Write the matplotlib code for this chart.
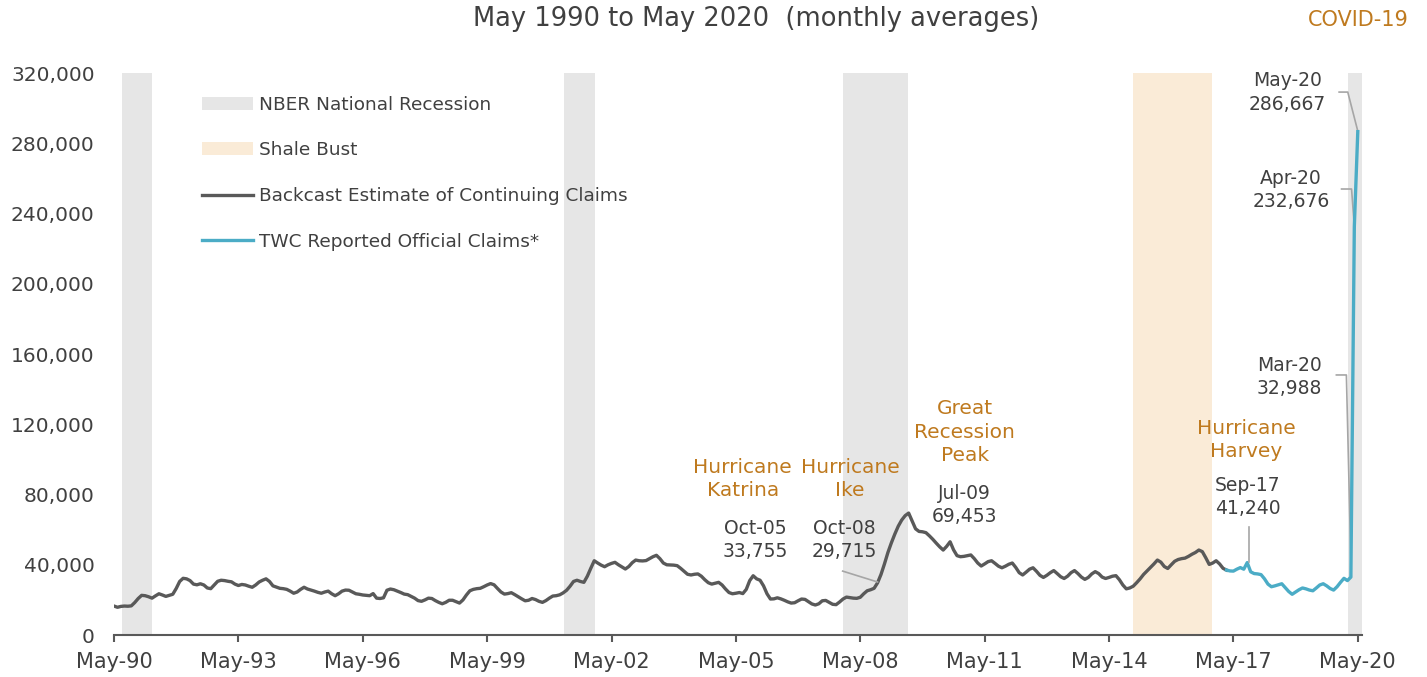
import numpy as np
import matplotlib
matplotlib.use("Agg")
import matplotlib.pyplot as plt
from matplotlib.patches import Patch
from matplotlib.lines import Line2D

plt.rcParams['font.family'] = ['DejaVu Sans']

# Monatswerte ab Mai 1990 (Index 0) bis Mai 2020 (Index 360), in Tausend
claims_k = [
    16.5, 15.8, 16.3, 16.5, 16.4, 16.6, 18.5, 20.8, 22.6, 22.4, 21.8, 21.0,   # 1990/91
    22.3, 23.5, 22.8, 22.0, 22.6, 23.2, 26.5, 30.5, 32.3, 32.0, 31.0, 29.0,
    28.6, 29.2, 28.5, 26.8, 26.4, 28.5, 30.6, 31.2, 31.0, 30.6, 30.3, 29.0,
    28.2, 28.8, 28.5, 27.8, 27.2, 28.5, 30.2, 31.2, 32.0, 30.5, 28.0, 27.3,
    26.6, 26.4, 26.0, 25.0, 23.8, 24.5, 26.0, 27.2, 26.2, 25.6, 25.0, 24.3,
    23.8, 24.5, 25.0, 23.5, 22.4, 23.5, 25.0, 25.6, 25.5, 24.5, 23.5, 23.2,
    22.8, 22.6, 22.4, 23.6, 21.0, 20.8, 21.2, 25.5, 26.2, 25.8, 25.0, 24.2,
    23.3, 23.0, 22.0, 21.0, 19.6, 19.2, 20.0, 21.0, 20.8, 19.6, 18.6, 17.8,
    18.6, 19.8, 19.8, 19.0, 18.2, 20.0, 22.8, 25.2, 26.0, 26.4, 26.6, 27.5,
    28.5, 29.3, 28.6, 26.5, 24.5, 23.3, 23.6, 24.1, 23.0, 21.8, 20.6, 19.5,
    19.8, 20.8, 20.2, 19.2, 18.6, 19.6, 21.0, 22.2, 22.4, 22.9, 24.0, 25.5,
    27.8, 30.5, 31.2, 30.5, 30.0, 33.5, 38.0, 42.3, 41.0, 39.8, 38.9, 40.0,
    40.8, 41.4, 40.0, 38.8, 37.6, 39.0, 41.2, 42.7, 42.3, 42.2, 42.4, 43.5,
    44.6, 45.4, 43.5, 41.0, 40.0, 39.9, 39.8, 39.5, 38.0, 36.3, 34.6, 34.2,
    34.6, 34.8, 33.5, 31.5, 29.8, 29.0, 29.5, 30.0, 28.5, 26.2, 24.2, 23.5,
    23.8, 24.2, 23.6, 26.0, 31.0, 33.755, 32.0, 31.2, 28.0, 23.5, 20.5, 20.6,
    21.2, 20.6, 19.8, 18.9, 18.2, 18.4, 19.5, 20.5, 20.3, 19.0, 17.7, 17.1,
    17.8, 19.5, 19.7, 18.6, 17.5, 17.3, 18.8, 20.5, 21.6, 21.3, 21.0, 20.9,
    21.5, 23.5, 25.2, 25.8, 26.6, 29.715, 34.5, 40.5, 47.0, 52.5, 57.5, 62.0,
    65.5, 68.0, 69.453, 65.0, 60.5, 59.0, 58.8, 58.3, 56.5, 54.5, 52.3, 50.2,
    48.4, 50.5, 53.1, 48.5, 45.2, 44.6, 44.8, 45.2, 45.6, 43.5, 41.0, 39.3,
    40.5, 41.8, 42.3, 40.8, 39.2, 38.3, 39.2, 40.3, 41.0, 38.5, 35.5, 34.2,
    35.8, 37.5, 38.3, 36.3, 34.0, 32.8, 34.0, 35.5, 36.7, 35.0, 33.2, 32.2,
    33.5, 35.5, 36.7, 35.0, 33.0, 31.7, 32.8, 34.8, 36.1, 35.0, 33.0, 32.2,
    32.8, 33.5, 33.8, 31.5, 28.5, 26.3, 26.8, 27.8, 29.8, 32.0, 34.5, 36.5,
    38.5, 40.5, 42.7, 41.5, 39.0, 37.9, 40.0, 42.0, 43.0, 43.5, 43.8, 44.8,
    46.0, 47.0, 48.4, 47.5, 44.0, 40.2, 41.0, 42.3, 40.5, 38.0, 37.0, 36.5,
    36.4, 37.5, 38.4, 37.5, 41.24, 36.0, 35.0, 34.8, 34.4, 32.0, 29.0, 27.5,
    28.0, 28.6, 29.2, 27.0, 24.8, 23.2, 24.5, 25.8, 26.8, 26.3, 25.6, 25.2,
    26.8, 28.5, 29.2, 28.0, 26.5, 25.6, 27.5, 30.0, 32.3, 31.0, 32.988, 232.676,
    286.667,
]
claims = np.array(claims_k) * 1000
months = np.arange(len(claims))
split = 322  # ab hier offizielle TWC-Werte

# Rezessionen (NBER) und Shale Bust, als Monatsindex
rec_start = [2.3, 130.2, 210.9, 357.1]
rec_end = [11.0, 139.2, 229.7, 361.2]
shale_start, shale_end = 294.8, 317.7

tick_pos = np.arange(0, 361, 36)
tick_labels = ['May-90', 'May-93', 'May-96', 'May-99', 'May-02', 'May-05',
               'May-08', 'May-11', 'May-14', 'May-17', 'May-20']
yticks = np.arange(0, 320001, 40000)

grey = '#595959'
blue = '#4BACC6'
orange = '#BF7A1F'
txt = '#404040'
lead = '#A6A6A6'

fig = plt.figure(figsize=(14.27, 6.77), dpi=100)
ax = fig.add_axes([0.0799, 0.062, 0.8745, 0.830])

for s, e in zip(rec_start, rec_end):
    ax.axvspan(s, e, color='#E6E6E6', lw=0, zorder=0)
ax.axvspan(shale_start, shale_end, color='#FAEBD7', lw=0, zorder=0)

ax.plot(months[:split + 1], claims[:split + 1], color=grey, lw=2.4, zorder=3)
ax.plot(months[split:], claims[split:], color=blue, lw=2.4, zorder=3)

ax.set_xlim(0, 361.2)
ax.set_ylim(0, 320000)
ax.set_xticks(tick_pos)
ax.set_xticklabels(tick_labels)
ax.set_yticks(yticks)
ax.set_yticklabels(['{:,}'.format(v) for v in yticks])
for sp in ['top', 'right', 'left']:
    ax.spines[sp].set_visible(False)
ax.spines['bottom'].set_color(grey)
ax.spines['bottom'].set_linewidth(1.5)
ax.tick_params(axis='x', colors=grey, length=5, width=1.5, labelsize=15,
               labelcolor=txt, pad=7)
ax.tick_params(axis='y', length=0, labelsize=14.5, labelcolor=txt, pad=14)

# Titel
fig.text(0.530, 0.972, 'May 1990 to May 2020  (monthly averages)', ha='center',
         va='center', fontsize=18.5, color=txt)
fig.text(0.987, 0.970, 'COVID-19', ha='right', va='center', fontsize=15,
         color=orange)

# Annotationen
def note(x, y, s, col, fs):
    ax.text(x, y, s, ha='center', va='center', color=col, fontsize=fs,
            linespacing=1.3, zorder=5)

note(182, 88800, 'Hurricane\nKatrina', orange, 14.5)
note(185.5, 54100, 'Oct-05\n33,755', txt, 13.5)
note(213, 88800, 'Hurricane\nIke', orange, 14.5)
note(211.5, 54100, 'Oct-08\n29,715', txt, 13.5)
note(246.2, 115600, 'Great\nRecession\nPeak', orange, 14.5)
note(246.2, 74000, 'Jul-09\n69,453', txt, 13.5)
note(327.8, 111000, 'Hurricane\nHarvey', orange, 14.5)
note(328.1, 78600, 'Sep-17\n41,240', txt, 13.5)
note(340.3, 146900, 'Mar-20\n32,988', txt, 13.5)
note(340.6, 253400, 'Apr-20\n232,676', txt, 13.5)
note(339.7, 309000, 'May-20\n286,667', txt, 13.5)

ax.plot([210.9, 221], [36400, 30200], color=lead, lw=1.2, zorder=4)
ax.plot([328.4, 328.4], [61500, 41600], color=lead, lw=1.2, zorder=4)
ax.plot([353.8, 356.7, 358.1], [148100, 148100, 33500], color=lead, lw=1.2, zorder=2)
ax.plot([355.3, 358.2, 359], [254000, 254000, 232700], color=lead, lw=1.2, zorder=2)
ax.plot([354.6, 357.1, 360], [309200, 309200, 287000], color=lead, lw=1.2, zorder=2)

# Legende
handles = [Patch(facecolor='#E6E6E6', edgecolor='none'),
           Patch(facecolor='#FAEBD7', edgecolor='none'),
           Line2D([], [], color=grey, lw=2.4),
           Line2D([], [], color=blue, lw=2.4)]
labels = ['NBER National Recession', 'Shale Bust',
          'Backcast Estimate of Continuing Claims', 'TWC Reported Official Claims*']
leg = ax.legend(handles, labels, loc='upper left', bbox_to_anchor=(0.0705, 0.960),
                frameon=False, fontsize=13.3, handlelength=2.75, handleheight=0.7,
                handletextpad=0.35, labelspacing=1.5, borderpad=0, borderaxespad=0)
for t in leg.get_texts():
    t.set_color(txt)

fig.savefig('out.png', dpi=100)
